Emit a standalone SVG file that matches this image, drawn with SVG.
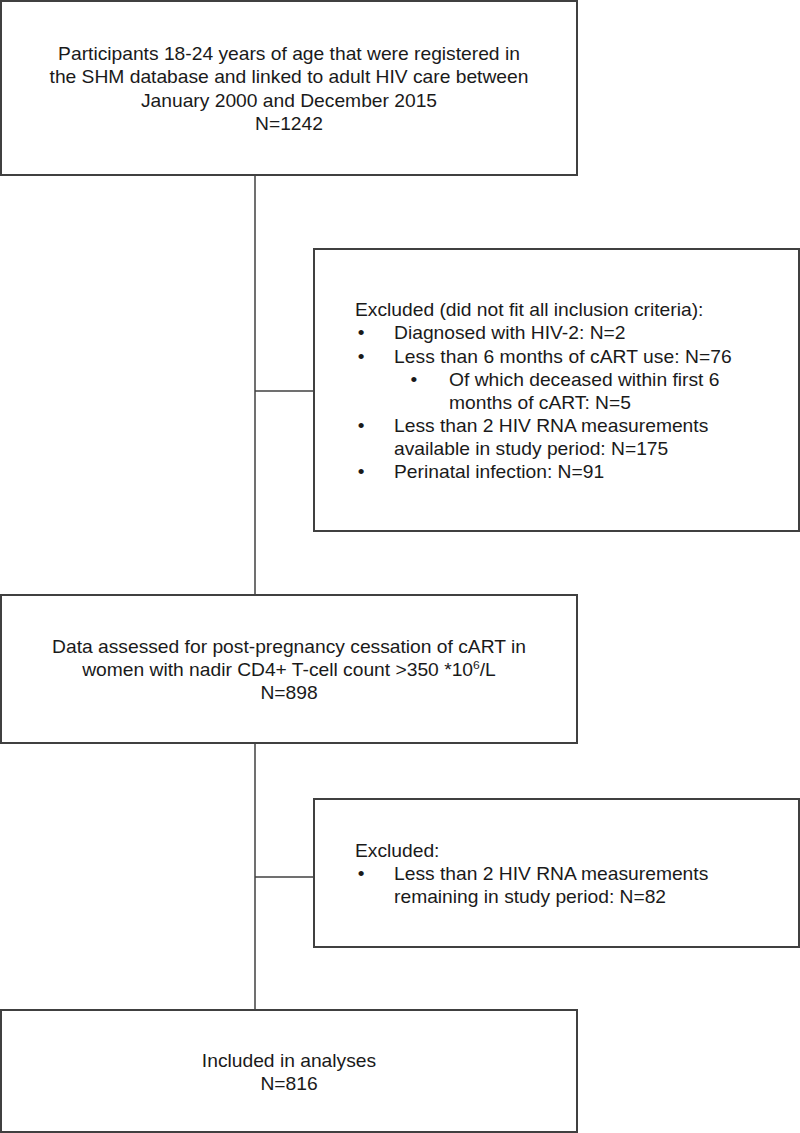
<svg xmlns="http://www.w3.org/2000/svg" width="800" height="1133" viewBox="0 0 800 1133">
<style>
  .box { fill: #ffffff; stroke: #404040; stroke-width: 2; }
  .conn { stroke: #404040; stroke-width: 1.5; fill: none; }
  text { font-family: "Liberation Sans", Arial, sans-serif; font-size: 17.5px; fill: #1a1a1a; }
  .c { text-anchor: middle; }
</style>
<rect width="800" height="1133" fill="#ffffff"/>
<g id="connectors">
  <line class="conn" x1="255" y1="175" x2="255" y2="595"/>
  <line class="conn" x1="255" y1="391" x2="314" y2="391"/>
  <line class="conn" x1="255" y1="743" x2="255" y2="1010"/>
  <line class="conn" x1="255" y1="877" x2="314" y2="877"/>
</g>
<g id="node-participants">
  <rect class="box" x="1" y="1" width="576" height="174"/>
  <g transform="translate(289 0) scale(1.1 1) translate(-289 0)">
    <text class="c" x="289" y="60">Participants 18-24 years of age that were registered in</text>
    <text class="c" x="289" y="83">the SHM database and linked to adult HIV care between</text>
    <text class="c" x="289" y="107">January 2000 and December 2015</text>
    <text class="c" x="289" y="130">N=1242</text>
  </g>
</g>
<g id="node-excluded1">
  <rect class="box" x="314" y="249" width="485" height="282"/>
  <g transform="translate(355 0) scale(1.1 1) translate(-355 0)">
    <text x="355" y="316">Excluded (did not fit all inclusion criteria):</text>
    <text x="357.5" y="339">•</text><text x="390.5" y="339">Diagnosed with HIV-2: N=2</text>
    <text x="357.5" y="363">•</text><text x="390.5" y="363" textLength="307" lengthAdjust="spacing">Less than 6 months of cART use: N=76</text>
    <text x="405.5" y="386">•</text><text x="440.5" y="386">Of which deceased within first 6</text>
    <text x="440.5" y="409">months of cART: N=5</text>
    <text x="357.5" y="432">•</text><text x="390.5" y="432">Less than 2 HIV RNA measurements</text>
    <text x="390.5" y="455">available in study period: N=175</text>
    <text x="357.5" y="478">•</text><text x="390.5" y="478">Perinatal infection: N=91</text>
  </g>
</g>
<g id="node-assessed">
  <rect class="box" x="1" y="595" width="576" height="148"/>
  <g transform="translate(289 0) scale(1.1 1) translate(-289 0)">
    <text class="c" x="289" y="653">Data assessed for post-pregnancy cessation of cART in</text>
    <text class="c" x="289" y="676">women with nadir CD4+ T-cell count &gt;350 *10<tspan font-size="11" dy="-7">6</tspan><tspan dy="7">/L</tspan></text>
    <text class="c" x="289" y="699">N=898</text>
  </g>
</g>
<g id="node-excluded2">
  <rect class="box" x="314" y="799" width="485" height="148"/>
  <g transform="translate(355 0) scale(1.1 1) translate(-355 0)">
    <text x="355" y="857">Excluded:</text>
    <text x="357.5" y="880">•</text><text x="390.5" y="880">Less than 2 HIV RNA measurements</text>
    <text x="390.5" y="903">remaining in study period: N=82</text>
  </g>
</g>
<g id="node-included">
  <rect class="box" x="1" y="1010" width="576" height="122"/>
  <g transform="translate(289 0) scale(1.1 1) translate(-289 0)">
    <text class="c" x="289" y="1067">Included in analyses</text>
    <text class="c" x="289" y="1090">N=816</text>
  </g>
</g>
</svg>
